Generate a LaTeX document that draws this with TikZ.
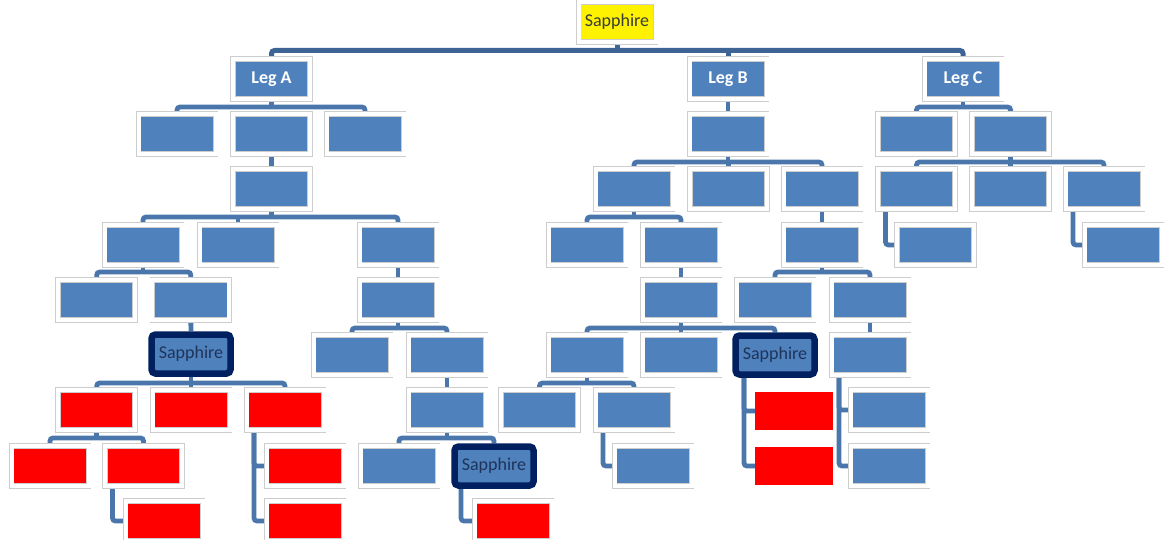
\documentclass[tikz,border=0pt]{standalone}
\usepackage{fontspec}
\setmainfont{Carlito}
\usepackage{tikz}
\usetikzlibrary{positioning,calc,backgrounds}
\usepackage{xcolor}
\definecolor{unitblue}{RGB}{79,129,189}
\definecolor{framegray}{RGB}{205,205,205}
\definecolor{linkblue}{RGB}{74,118,172}
\definecolor{busblue}{RGB}{62,100,150}
\definecolor{alertred}{RGB}{255,0,0}
\definecolor{sapphirenavy}{RGB}{0,32,96}
\definecolor{sapphiretext}{RGB}{30,52,90}
\definecolor{roottext}{RGB}{55,60,60}

\begin{document}
\begin{tikzpicture}[
    x=1pt, y=-1pt,
    unitbox/.style={
        draw=framegray, line width=0.8pt, double=white, double distance=4pt,
        fill=unitblue, minimum width=77pt, minimum height=40pt, inner sep=0pt,
        font=\fontsize{18}{20}\selectfont
    },
    redbox/.style={unitbox, fill=alertred},
    legbox/.style={unitbox, text=white, font=\fontsize{18}{20}\selectfont\bfseries},
    rootbox/.style={unitbox, fill=yellow, text=roottext},
    sapphirebox/.style={
        draw=sapphirenavy, line width=6.5pt, rounded corners=4pt,
        fill=unitblue, minimum width=79pt, minimum height=39pt, inner sep=0pt,
        text=sapphiretext, font=\fontsize{18}{20}\selectfont
    },
    plainred/.style={fill=alertred, minimum width=78pt, minimum height=38pt, inner sep=0pt},
    linkline/.style={line width=4.8pt, draw=linkblue, rounded corners=3pt},
    busline/.style={linkline, line width=5pt, draw=busblue}
]
\useasboundingbox (0,0) rectangle (1166,540);

% Top level
\node[rootbox] (root) at (617,22) {Sapphire};
\node[legbox] (legA) at (271.5,79) {Leg A};
\node[legbox] (legB) at (728,79) {Leg B};
\node[legbox] (legC) at (963,79) {Leg C};

% Leg A
\node[unitbox] (a1) at (177,134) {};
\node[unitbox] (a2) at (271.5,134) {};
\node[unitbox] (a3) at (365,134) {};
\node[unitbox] (a21) at (271.5,189) {};
\node[unitbox] (a211) at (143,245) {};
\node[unitbox] (a212) at (238,245) {};
\node[unitbox] (a213) at (398,245) {};
\node[unitbox] (a2111) at (96.7,300) {};
\node[unitbox] (a2112) at (190.8,300) {};
\node[sapphirebox] (sA) at (191,354) {Sapphire};
\node[redbox] (ra) at (96.7,410) {};
\node[redbox] (rb) at (191,410) {};
\node[redbox] (rc) at (285,410) {};
\node[redbox] (ra1) at (50,466) {};
\node[redbox] (ra2) at (143.5,466) {};
\node[redbox] (ra21) at (164,521) {};
\node[redbox] (rc1) at (305,466) {};
\node[redbox] (rc2) at (305,521) {};
\node[unitbox] (a2131) at (398,300) {};
\node[unitbox] (a21311) at (352,355) {};
\node[unitbox] (a21312) at (447,355) {};
\node[unitbox] (a213121) at (447,410) {};
\node[unitbox] (a2131211) at (399,466) {};
\node[sapphirebox] (sC) at (494,466) {Sapphire};
\node[redbox] (rC1) at (513,521) {};

% Leg B
\node[unitbox] (b1) at (728,134) {};
\node[unitbox] (b11) at (634,189) {};
\node[unitbox] (b12) at (728.5,189) {};
\node[unitbox] (b13) at (822,189) {};
\node[unitbox] (b111) at (587,245) {};
\node[unitbox] (b112) at (681,245) {};
\node[unitbox] (b1121) at (681,300) {};
\node[unitbox] (b11211) at (587,355) {};
\node[unitbox] (b11212) at (681,355) {};
\node[sapphirebox] (sB) at (775,355) {Sapphire};
\node[unitbox] (b112111) at (539.5,410) {};
\node[unitbox] (b112112) at (634,410) {};
\node[unitbox] (b1121121) at (653,466) {};
\node[plainred] (rB1) at (794,411) {};
\node[plainred] (rB2) at (794,466) {};
\node[unitbox] (b131) at (822,245) {};
\node[unitbox] (b1311) at (775,300) {};
\node[unitbox] (b1312) at (870,300) {};
\node[unitbox] (b13121) at (870,355) {};
\node[unitbox] (b131211) at (889,410) {};
\node[unitbox] (b131212) at (889,466) {};

% Leg C
\node[unitbox] (c1) at (916.5,134) {};
\node[unitbox] (c2) at (1010.6,134) {};
\node[unitbox] (c21) at (916.5,189) {};
\node[unitbox] (c22) at (1010.6,189) {};
\node[unitbox] (c23) at (1104,189) {};
\node[unitbox] (c211) at (935.5,245) {};
\node[unitbox] (c231) at (1123,245) {};

% Connectors
\begin{scope}[on background layer]
\draw[busline] (root.south) -- (root |- 0,50.5);
\draw[busline] (legA.north) |- (legC |- 0,50.5) -- (legC.north);
\draw[busline] (legB.north) -- (legB |- 0,50.5);

% Leg A
\draw[linkline] (legA.south) -- (legA |- 0,107);
\draw[linkline] (a1.north) |- (a3 |- 0,107) -- (a3.north);
\draw[linkline] (a2.south) -- (a21.north);
\draw[linkline] (a21.south) -- (a21 |- 0,217);
\draw[linkline] (a211.north) |- (a213 |- 0,217) -- (a213.north);
\draw[linkline] (a212.north) -- (a212 |- 0,217);
\draw[linkline] (a211.south) -- (a211 |- 0,272);
\draw[linkline] (a2111.north) |- (a2112 |- 0,272) -- (a2112.north);
\draw[linkline] (a2112.south) -- (sA.north);
\draw[linkline] (sA.south) -- (sA |- 0,383);
\draw[linkline] (ra.north) |- (rc |- 0,383) -- (rc.north);
\draw[linkline] (rb.north) -- (rb |- 0,383);
\draw[linkline] (ra.south) -- (ra |- 0,438);
\draw[linkline] (ra1.north) |- (ra2 |- 0,438) -- (ra2.north);
\draw[linkline] ([xshift=-31pt]ra2.center) |- (ra21.west);
\draw[linkline] ([xshift=-31pt]rc.center) |- (rc2.west);
\draw[linkline] ([xshift=-31pt]rc.center) |- (rc1.west);
\draw[linkline] (a213.south) -- (a2131.north);
\draw[linkline] (a2131.south) -- (a2131 |- 0,328);
\draw[linkline] (a21311.north) |- (a21312 |- 0,328) -- (a21312.north);
\draw[linkline] (a21312.south) -- (a213121.north);
\draw[linkline] (a213121.south) -- (a213121 |- 0,438);
\draw[linkline] (a2131211.north) |- (sC |- 0,438) -- (sC.north);
\draw[linkline] ([xshift=-33pt]sC.center) |- (rC1.west);

% Leg B
\draw[linkline] (legB.south) -- (b1.north);
\draw[linkline] (b1.south) -- (b1 |- 0,162);
\draw[linkline] (b11.north) |- (b13 |- 0,162) -- (b13.north);
\draw[linkline] (b12.north) -- (b12 |- 0,162);
\draw[linkline] (b11.south) -- (b11 |- 0,217);
\draw[linkline] (b111.north) |- (b112 |- 0,217) -- (b112.north);
\draw[linkline] (b112.south) -- (b1121.north);
\draw[linkline] (b1121.south) -- (b1121 |- 0,328);
\draw[linkline] (b11211.north) |- (sB |- 0,328) -- (sB.north);
\draw[linkline] (b11212.north) -- (b11212 |- 0,328);
\draw[linkline] (b11211.south) -- (b11211 |- 0,383);
\draw[linkline] (b112111.north) |- (b112112 |- 0,383) -- (b112112.north);
\draw[linkline] ([xshift=-31pt]b112112.center) |- (b1121121.west);
\draw[linkline] ([xshift=-31pt]sB.center) |- (rB2.west);
\draw[linkline] ([xshift=-31pt]sB.center) |- (rB1.west);
\draw[linkline] (b13.south) -- (b131.north);
\draw[linkline] (b131.south) -- (b131 |- 0,272);
\draw[linkline] (b1311.north) |- (b1312 |- 0,272) -- (b1312.north);
\draw[linkline] (b1312.south) -- (b13121.north);
\draw[linkline] ([xshift=-31pt]b13121.center) |- (b131212.west);
\draw[linkline] ([xshift=-31pt]b13121.center) |- (b131211.west);

% Leg C
\draw[linkline] (legC.south) -- (legC |- 0,107);
\draw[linkline] (c1.north) |- (c2 |- 0,107) -- (c2.north);
\draw[linkline] (c2.south) -- (c2 |- 0,162);
\draw[linkline] (c21.north) |- (c23 |- 0,162) -- (c23.north);
\draw[linkline] (c22.north) -- (c22 |- 0,162);
\draw[linkline] ([xshift=-31pt]c21.center) |- (c211.west);
\draw[linkline] ([xshift=-31pt]c23.center) |- (c231.west);
\end{scope}

\end{tikzpicture}
\end{document}
